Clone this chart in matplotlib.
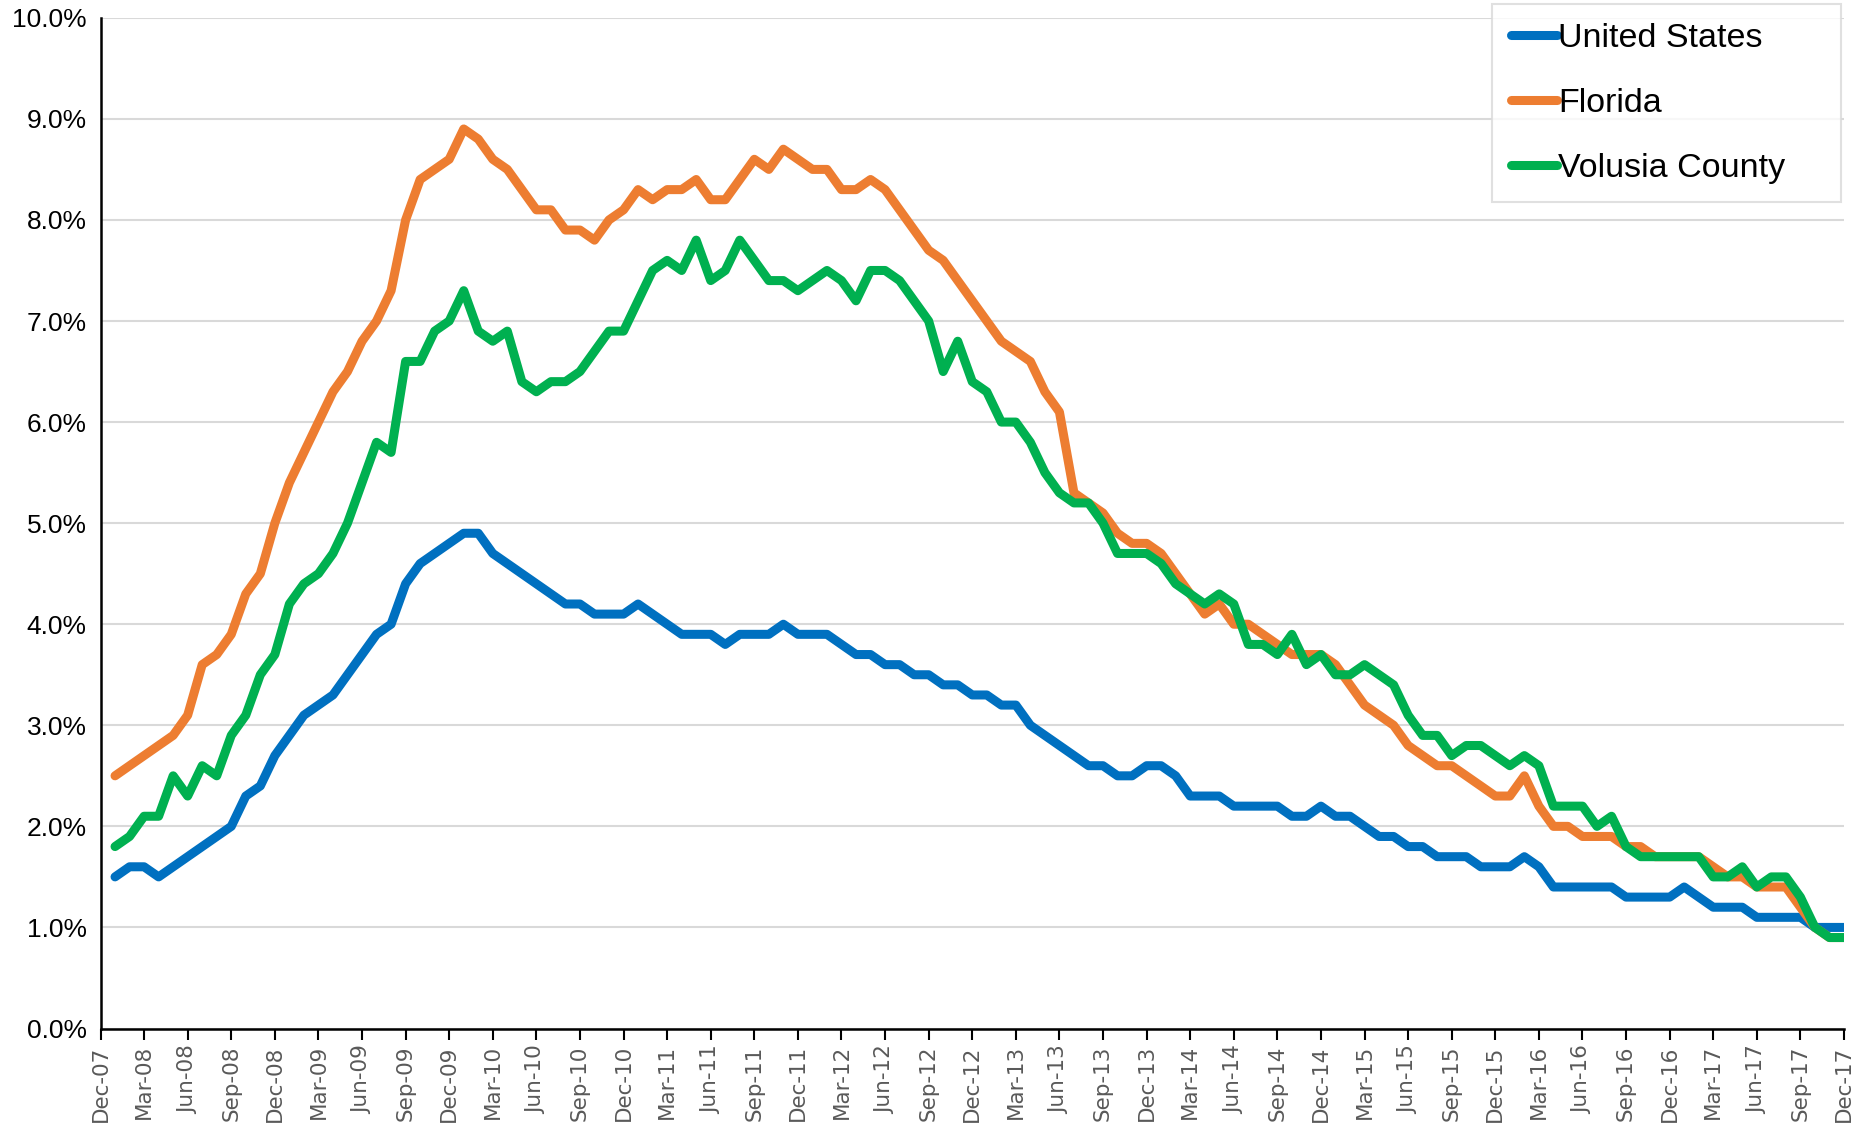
import numpy as np
import pandas as pd
import matplotlib
matplotlib.use("Agg")
import matplotlib.pyplot as plt
from matplotlib.ticker import FuncFormatter

# monthly values, Jan-08 .. Dec-17 (percent)
united_states = [
    1.5, 1.6, 1.6, 1.5, 1.6, 1.7, 1.8, 1.9, 2.0, 2.3, 2.4, 2.7,
    2.9, 3.1, 3.2, 3.3, 3.5, 3.7, 3.9, 4.0, 4.4, 4.6, 4.7, 4.8,
    4.9, 4.9, 4.7, 4.6, 4.5, 4.4, 4.3, 4.2, 4.2, 4.1, 4.1, 4.1,
    4.2, 4.1, 4.0, 3.9, 3.9, 3.9, 3.8, 3.9, 3.9, 3.9, 4.0, 3.9,
    3.9, 3.9, 3.8, 3.7, 3.7, 3.6, 3.6, 3.5, 3.5, 3.4, 3.4, 3.3,
    3.3, 3.2, 3.2, 3.0, 2.9, 2.8, 2.7, 2.6, 2.6, 2.5, 2.5, 2.6,
    2.6, 2.5, 2.3, 2.3, 2.3, 2.2, 2.2, 2.2, 2.2, 2.1, 2.1, 2.2,
    2.1, 2.1, 2.0, 1.9, 1.9, 1.8, 1.8, 1.7, 1.7, 1.7, 1.6, 1.6,
    1.6, 1.7, 1.6, 1.4, 1.4, 1.4, 1.4, 1.4, 1.3, 1.3, 1.3, 1.3,
    1.4, 1.3, 1.2, 1.2, 1.2, 1.1, 1.1, 1.1, 1.1, 1.0, 1.0, 1.0,
]
florida = [
    2.5, 2.6, 2.7, 2.8, 2.9, 3.1, 3.6, 3.7, 3.9, 4.3, 4.5, 5.0,
    5.4, 5.7, 6.0, 6.3, 6.5, 6.8, 7.0, 7.3, 8.0, 8.4, 8.5, 8.6,
    8.9, 8.8, 8.6, 8.5, 8.3, 8.1, 8.1, 7.9, 7.9, 7.8, 8.0, 8.1,
    8.3, 8.2, 8.3, 8.3, 8.4, 8.2, 8.2, 8.4, 8.6, 8.5, 8.7, 8.6,
    8.5, 8.5, 8.3, 8.3, 8.4, 8.3, 8.1, 7.9, 7.7, 7.6, 7.4, 7.2,
    7.0, 6.8, 6.7, 6.6, 6.3, 6.1, 5.3, 5.2, 5.1, 4.9, 4.8, 4.8,
    4.7, 4.5, 4.3, 4.1, 4.2, 4.0, 4.0, 3.9, 3.8, 3.7, 3.7, 3.7,
    3.6, 3.4, 3.2, 3.1, 3.0, 2.8, 2.7, 2.6, 2.6, 2.5, 2.4, 2.3,
    2.3, 2.5, 2.2, 2.0, 2.0, 1.9, 1.9, 1.9, 1.8, 1.8, 1.7, 1.7,
    1.7, 1.7, 1.6, 1.5, 1.5, 1.4, 1.4, 1.4, 1.2, 1.0, 0.9, 0.9,
]
volusia = [
    1.8, 1.9, 2.1, 2.1, 2.5, 2.3, 2.6, 2.5, 2.9, 3.1, 3.5, 3.7,
    4.2, 4.4, 4.5, 4.7, 5.0, 5.4, 5.8, 5.7, 6.6, 6.6, 6.9, 7.0,
    7.3, 6.9, 6.8, 6.9, 6.4, 6.3, 6.4, 6.4, 6.5, 6.7, 6.9, 6.9,
    7.2, 7.5, 7.6, 7.5, 7.8, 7.4, 7.5, 7.8, 7.6, 7.4, 7.4, 7.3,
    7.4, 7.5, 7.4, 7.2, 7.5, 7.5, 7.4, 7.2, 7.0, 6.5, 6.8, 6.4,
    6.3, 6.0, 6.0, 5.8, 5.5, 5.3, 5.2, 5.2, 5.0, 4.7, 4.7, 4.7,
    4.6, 4.4, 4.3, 4.2, 4.3, 4.2, 3.8, 3.8, 3.7, 3.9, 3.6, 3.7,
    3.5, 3.5, 3.6, 3.5, 3.4, 3.1, 2.9, 2.9, 2.7, 2.8, 2.8, 2.7,
    2.6, 2.7, 2.6, 2.2, 2.2, 2.2, 2.0, 2.1, 1.8, 1.7, 1.7, 1.7,
    1.7, 1.7, 1.5, 1.5, 1.6, 1.4, 1.5, 1.5, 1.3, 1.0, 0.9, 0.9,
]

series_names = ["United States", "Florida", "Volusia County"]
colors = ["#0070C0", "#ED7D31", "#00B050"]

# month index: 0 = Dec-07, 120 = Dec-17
months = np.arange(1, len(united_states) + 1)
tick_pos = np.arange(0, 121, 3)
tick_labels = pd.date_range("2007-12-01", "2017-12-01", freq="3MS").strftime("%b-%y")

fig = plt.figure(figsize=(18.6, 11.26), dpi=100)
ax = fig.add_axes([100.5 / 1860, 1 - 1028.5 / 1126, (1844 - 100.5) / 1860, (1028.5 - 17.8) / 1126])

for vals, name, c in zip([united_states, florida, volusia], series_names, colors):
    ax.plot(months, vals, color=c, lw=6.5, label=name, solid_joinstyle="round", solid_capstyle="round")

ax.set_xlim(0, 120)
ax.set_ylim(0, 10)
ax.set_yticks(np.arange(0, 10.01, 1))
ax.yaxis.set_major_formatter(FuncFormatter(lambda v, p: "%.1f%%" % v))
ax.set_xticks(tick_pos)
ax.set_xticklabels(tick_labels, rotation=90, fontsize=15.5, color="#595959", family="DejaVu Sans")
for lab in ax.get_yticklabels():
    lab.set_family("Liberation Sans")
    lab.set_fontsize(19)
ax.tick_params(axis="y", length=0, pad=10)
ax.tick_params(axis="x", direction="out", length=8, width=1.5, pad=4)

ax.grid(axis="y", color="#d9d9d9", lw=1.5)
ax.set_axisbelow(True)
for s in ["top", "right"]:
    ax.spines[s].set_visible(False)
ax.spines["left"].set_linewidth(1.8)
ax.spines["bottom"].set_linewidth(1.8)

leg = fig.legend(loc="upper left",
                 bbox_to_anchor=(1492 / 1860, 1 - 4 / 1126 - 0.01, (1841 - 1492) / 1860, 0.01),
                 mode="expand", borderaxespad=0, frameon=True, fancybox=False,
                 prop={"family": "Liberation Sans", "size": 24.5},
                 handlelength=1.35, handletextpad=0.05, labelspacing=1.0,
                 borderpad=0.55)
leg.get_frame().set_edgecolor("#d9d9d9")
leg.get_frame().set_linewidth(1.5)

fig.savefig("out.png", dpi=100)
